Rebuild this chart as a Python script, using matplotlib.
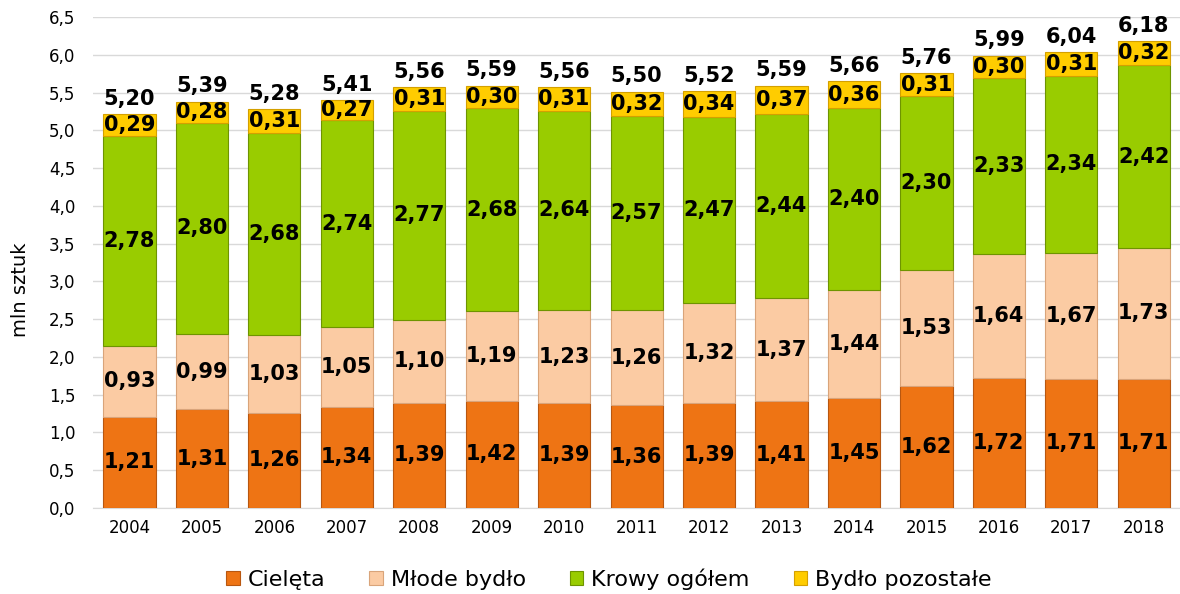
import numpy as np
import matplotlib.pyplot as plt

# Dane: pogłowie bydła (mln sztuk)
lata = ['2004', '2005', '2006', '2007', '2008', '2009', '2010', '2011',
        '2012', '2013', '2014', '2015', '2016', '2017', '2018']
cieleta = [1.21, 1.31, 1.26, 1.34, 1.39, 1.42, 1.39, 1.36, 1.39, 1.41, 1.45, 1.62, 1.72, 1.71, 1.71]
mlode = [0.93, 0.99, 1.03, 1.05, 1.10, 1.19, 1.23, 1.26, 1.32, 1.37, 1.44, 1.53, 1.64, 1.67, 1.73]
krowy = [2.78, 2.80, 2.68, 2.74, 2.77, 2.68, 2.64, 2.57, 2.47, 2.44, 2.40, 2.30, 2.33, 2.34, 2.42]
pozostale = [0.29, 0.28, 0.31, 0.27, 0.31, 0.30, 0.31, 0.32, 0.34, 0.37, 0.36, 0.31, 0.30, 0.31, 0.32]
razem = [5.20, 5.39, 5.28, 5.41, 5.56, 5.59, 5.56, 5.50, 5.52, 5.59, 5.66, 5.76, 5.99, 6.04, 6.18]

serie = [
    ('Cielęta', cieleta, '#EE7414', '#B85710'),
    ('Młode bydło', mlode, '#FBCBA3', '#D9A47A'),
    ('Krowy ogółem', krowy, '#99CC00', '#6E9400'),
    ('Bydło pozostałe', pozostale, '#FFCC00', '#D4A000'),
]

def fmt(v, nd=2):
    return f"{v:.{nd}f}".replace('.', ',')

fig = plt.figure(figsize=(11.8, 5.94), dpi=100)
ax = fig.add_axes([0.079, 0.1448, 0.921, 0.8266])

x = np.arange(len(lata))
dol = np.zeros(len(lata))
for nazwa, wart, kolor, krawedz in serie:
    wart = np.array(wart)
    ax.bar(x, wart, 0.72, bottom=dol, color=kolor, edgecolor=krawedz,
           linewidth=0.8, label=nazwa, zorder=3)
    for xi, b, v in zip(x, dol, wart):
        ax.text(xi, b + v / 2, fmt(v), ha='center', va='center',
                fontsize=15, fontweight='bold', color='black', zorder=4)
    dol = dol + wart

for xi, top, r in zip(x, dol, razem):
    ax.text(xi, top + 0.07, fmt(r), ha='center', va='bottom',
            fontsize=15, fontweight='bold', color='black', zorder=4)

ax.set_xlim(-0.5, len(lata) - 0.5)
ax.set_ylim(0, 6.5)
ax.set_xticks(x)
ax.set_xticklabels(lata, fontsize=12)
yt = np.arange(0, 6.51, 0.5)
ax.set_yticks(yt)
ax.set_yticklabels([fmt(t, 1) for t in yt], fontsize=12)
ax.set_ylabel('mln sztuk', fontsize=14)
ax.yaxis.set_label_coords(-0.058, 0.444)
ax.tick_params(axis='x', length=0, pad=8)
ax.tick_params(axis='y', length=0, pad=13)
ax.grid(axis='y', color='#D9D9D9', linewidth=1, zorder=0)
for s in ['top', 'right', 'left']:
    ax.spines[s].set_visible(False)
ax.spines['bottom'].set_color('#D9D9D9')

h, l = ax.get_legend_handles_labels()
fig.legend(h, l, loc='center', bbox_to_anchor=(609 / 1180, 1 - 579 / 594), ncol=4,
           frameon=False, fontsize=16, handlelength=0.6, handleheight=0.6,
           columnspacing=2.0, handletextpad=0.35)

plt.savefig('out.png', dpi=100)
